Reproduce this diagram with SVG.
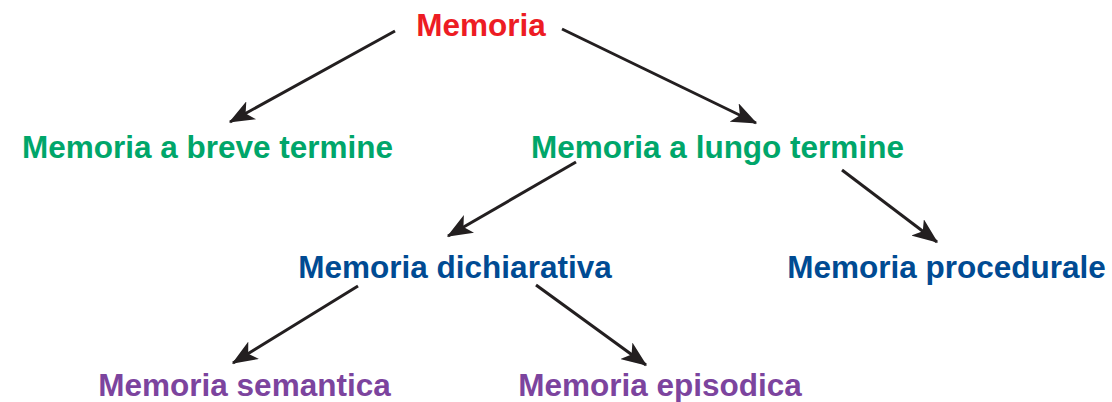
<svg xmlns="http://www.w3.org/2000/svg" width="1112" height="402" viewBox="0 0 1112 402">
<style>
text{font-family:"Liberation Sans",Arial,sans-serif;font-weight:bold;font-size:31.5px;text-anchor:middle}
.r{fill:#ed1c24}.g{fill:#00a66a}.b{fill:#004b93}.p{fill:#7c449e}
.c line{stroke:#231f20;stroke-width:3;marker-end:url(#ah)}
</style>
<defs>
<marker id="ah" viewBox="0 0 10 8" refX="9.5" refY="4" markerWidth="8.5" markerHeight="6.8" markerUnits="strokeWidth" orient="auto">
<path d="M0,0 L10,4 L0,8 L2.5,4 Z" fill="#231f20"/>
</marker>
</defs>
<g id="n-memoria"><text class="r" x="481" y="36">Memoria</text></g>
<g id="n-breve"><text class="g" x="207.5" y="158">Memoria a breve termine</text></g>
<g id="n-lungo"><text class="g" x="717.5" y="158">Memoria a lungo termine</text></g>
<g id="n-dich"><text class="b" x="455" y="278">Memoria dichiarativa</text></g>
<g id="n-proc"><text class="b" x="946.5" y="278">Memoria procedurale</text></g>
<g id="n-sem"><text class="p" x="244.5" y="396">Memoria semantica</text></g>
<g id="n-epi"><text class="p" x="660" y="396">Memoria episodica</text></g>
<g id="connectors" class="c">
<line x1="395" y1="31" x2="230" y2="122"/>
<line x1="562" y1="29" x2="756" y2="123"/>
<line x1="576" y1="162" x2="448" y2="236"/>
<line x1="842" y1="170" x2="937" y2="242"/>
<line x1="358" y1="286" x2="233" y2="363"/>
<line x1="536" y1="285" x2="646" y2="365"/>
</g>
</svg>
